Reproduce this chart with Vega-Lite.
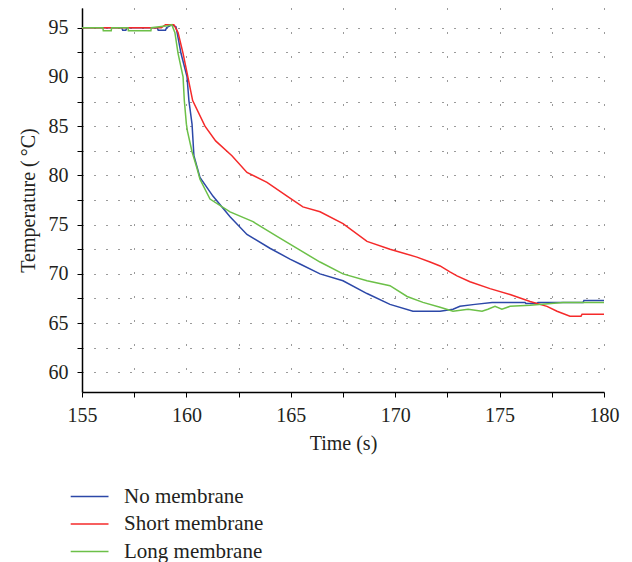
{
  "$schema": "https://vega.github.io/schema/vega-lite/v6.json",
  "width": 522,
  "height": 384,
  "autosize": {"type": "none"},
  "padding": {"left": 82, "top": 8, "right": 28, "bottom": 170},
  "background": "white",
  "config": {
    "view": {"stroke": null},
    "font": "Liberation Serif",
    "axis": {
      "labelFont": "Liberation Serif",
      "titleFont": "Liberation Serif",
      "labelFontSize": 20,
      "titleFontSize": 20,
      "labelColor": "#231f20",
      "titleColor": "#231f20",
      "titleFontWeight": "normal",
      "domainColor": "#000000",
      "domainWidth": 1.5,
      "tickColor": "#000000",
      "tickWidth": 1,
      "tickSize": 5,
      "gridColor": "#222222",
      "gridOpacity": 0.9,
      "gridWidth": 1
    },
    "legend": {
      "labelFont": "Liberation Serif",
      "labelFontSize": 21,
      "labelColor": "#231f20"
    }
  },
  "data": {
    "values": [
      {"series": "No membrane", "t": 155.0, "T": 95.0},
      {"series": "No membrane", "t": 156.9, "T": 95.0},
      {"series": "No membrane", "t": 156.95, "T": 94.75},
      {"series": "No membrane", "t": 157.1, "T": 94.75},
      {"series": "No membrane", "t": 157.15, "T": 95.0},
      {"series": "No membrane", "t": 158.6, "T": 95.0},
      {"series": "No membrane", "t": 158.65, "T": 94.75},
      {"series": "No membrane", "t": 159.0, "T": 94.75},
      {"series": "No membrane", "t": 159.05, "T": 95.0},
      {"series": "No membrane", "t": 159.3, "T": 95.3},
      {"series": "No membrane", "t": 159.5, "T": 95.1},
      {"series": "No membrane", "t": 159.6, "T": 94.0},
      {"series": "No membrane", "t": 159.74, "T": 92.4},
      {"series": "No membrane", "t": 160.03, "T": 90.0},
      {"series": "No membrane", "t": 160.12, "T": 87.6},
      {"series": "No membrane", "t": 160.27, "T": 85.2},
      {"series": "No membrane", "t": 160.36, "T": 82.0},
      {"series": "No membrane", "t": 160.65, "T": 79.8},
      {"series": "No membrane", "t": 161.27, "T": 77.9},
      {"series": "No membrane", "t": 162.09, "T": 75.8},
      {"series": "No membrane", "t": 162.9, "T": 74.0},
      {"series": "No membrane", "t": 164.0, "T": 72.6},
      {"series": "No membrane", "t": 164.96, "T": 71.5},
      {"series": "No membrane", "t": 165.44, "T": 71.0},
      {"series": "No membrane", "t": 166.4, "T": 70.0},
      {"series": "No membrane", "t": 167.5, "T": 69.3},
      {"series": "No membrane", "t": 168.65, "T": 68.0},
      {"series": "No membrane", "t": 169.75, "T": 66.9},
      {"series": "No membrane", "t": 170.85, "T": 66.2},
      {"series": "No membrane", "t": 172.15, "T": 66.2},
      {"series": "No membrane", "t": 172.77, "T": 66.4},
      {"series": "No membrane", "t": 173.1, "T": 66.7},
      {"series": "No membrane", "t": 173.82, "T": 66.9},
      {"series": "No membrane", "t": 174.64, "T": 67.1},
      {"series": "No membrane", "t": 176.22, "T": 67.1},
      {"series": "No membrane", "t": 176.26, "T": 67.0},
      {"series": "No membrane", "t": 176.79, "T": 67.0},
      {"series": "No membrane", "t": 176.84, "T": 67.1},
      {"series": "No membrane", "t": 179.0, "T": 67.1},
      {"series": "No membrane", "t": 179.04, "T": 67.3},
      {"series": "No membrane", "t": 180.0, "T": 67.3},

      {"series": "Short membrane", "t": 155.0, "T": 95.0},
      {"series": "Short membrane", "t": 158.8, "T": 95.0},
      {"series": "Short membrane", "t": 159.0, "T": 95.3},
      {"series": "Short membrane", "t": 159.4, "T": 95.3},
      {"series": "Short membrane", "t": 159.6, "T": 94.5},
      {"series": "Short membrane", "t": 159.84, "T": 92.4},
      {"series": "Short membrane", "t": 160.07, "T": 90.0},
      {"series": "Short membrane", "t": 160.3, "T": 87.6},
      {"series": "Short membrane", "t": 160.89, "T": 85.0},
      {"series": "Short membrane", "t": 161.4, "T": 83.5},
      {"series": "Short membrane", "t": 162.18, "T": 82.0},
      {"series": "Short membrane", "t": 162.9, "T": 80.3},
      {"series": "Short membrane", "t": 163.86, "T": 79.3},
      {"series": "Short membrane", "t": 164.82, "T": 77.9},
      {"series": "Short membrane", "t": 165.58, "T": 76.8},
      {"series": "Short membrane", "t": 166.4, "T": 76.3},
      {"series": "Short membrane", "t": 167.5, "T": 75.1},
      {"series": "Short membrane", "t": 168.65, "T": 73.3},
      {"series": "Short membrane", "t": 169.75, "T": 72.5},
      {"series": "Short membrane", "t": 171.04, "T": 71.7},
      {"series": "Short membrane", "t": 171.67, "T": 71.2},
      {"series": "Short membrane", "t": 172.15, "T": 70.8},
      {"series": "Short membrane", "t": 172.62, "T": 70.2},
      {"series": "Short membrane", "t": 172.96, "T": 69.8},
      {"series": "Short membrane", "t": 173.58, "T": 69.2},
      {"series": "Short membrane", "t": 174.54, "T": 68.5},
      {"series": "Short membrane", "t": 175.5, "T": 67.9},
      {"series": "Short membrane", "t": 176.46, "T": 67.2},
      {"series": "Short membrane", "t": 177.27, "T": 66.7},
      {"series": "Short membrane", "t": 177.75, "T": 66.2},
      {"series": "Short membrane", "t": 178.37, "T": 65.7},
      {"series": "Short membrane", "t": 178.9, "T": 65.7},
      {"series": "Short membrane", "t": 178.95, "T": 65.9},
      {"series": "Short membrane", "t": 180.0, "T": 65.9},

      {"series": "Long membrane", "t": 155.0, "T": 95.0},
      {"series": "Long membrane", "t": 156.0, "T": 95.0},
      {"series": "Long membrane", "t": 156.02, "T": 94.7},
      {"series": "Long membrane", "t": 156.4, "T": 94.7},
      {"series": "Long membrane", "t": 156.42, "T": 95.0},
      {"series": "Long membrane", "t": 157.2, "T": 95.0},
      {"series": "Long membrane", "t": 157.22, "T": 94.7},
      {"series": "Long membrane", "t": 158.3, "T": 94.7},
      {"series": "Long membrane", "t": 158.32, "T": 95.0},
      {"series": "Long membrane", "t": 159.1, "T": 95.2},
      {"series": "Long membrane", "t": 159.3, "T": 95.3},
      {"series": "Long membrane", "t": 159.45, "T": 94.5},
      {"series": "Long membrane", "t": 159.6, "T": 92.4},
      {"series": "Long membrane", "t": 159.84, "T": 90.0},
      {"series": "Long membrane", "t": 159.9, "T": 87.6},
      {"series": "Long membrane", "t": 160.0, "T": 85.2},
      {"series": "Long membrane", "t": 160.05, "T": 84.5},
      {"series": "Long membrane", "t": 160.27, "T": 82.4},
      {"series": "Long membrane", "t": 160.51, "T": 80.7},
      {"series": "Long membrane", "t": 160.65, "T": 79.6},
      {"series": "Long membrane", "t": 161.13, "T": 77.6},
      {"series": "Long membrane", "t": 162.09, "T": 76.3},
      {"series": "Long membrane", "t": 163.19, "T": 75.3},
      {"series": "Long membrane", "t": 164.34, "T": 73.8},
      {"series": "Long membrane", "t": 165.44, "T": 72.4},
      {"series": "Long membrane", "t": 166.4, "T": 71.2},
      {"series": "Long membrane", "t": 167.5, "T": 70.0},
      {"series": "Long membrane", "t": 168.65, "T": 69.3},
      {"series": "Long membrane", "t": 169.75, "T": 68.8},
      {"series": "Long membrane", "t": 170.57, "T": 67.7},
      {"series": "Long membrane", "t": 171.33, "T": 67.1},
      {"series": "Long membrane", "t": 172.15, "T": 66.6},
      {"series": "Long membrane", "t": 172.77, "T": 66.2},
      {"series": "Long membrane", "t": 173.49, "T": 66.4},
      {"series": "Long membrane", "t": 174.16, "T": 66.2},
      {"series": "Long membrane", "t": 174.44, "T": 66.4},
      {"series": "Long membrane", "t": 174.78, "T": 66.7},
      {"series": "Long membrane", "t": 175.11, "T": 66.4},
      {"series": "Long membrane", "t": 175.5, "T": 66.7},
      {"series": "Long membrane", "t": 176.46, "T": 66.8},
      {"series": "Long membrane", "t": 178.04, "T": 67.1},
      {"series": "Long membrane", "t": 180.0, "T": 67.1}
    ]
  },
  "mark": {"type": "line", "strokeWidth": 1.5, "interpolate": "linear"},
  "encoding": {
    "x": {
      "field": "t",
      "type": "quantitative",
      "scale": {"domain": [155, 180], "nice": false, "zero": false},
      "axis": {
        "title": "Time (s)",
        "values": [155, 157.5, 160, 162.5, 165, 167.5, 170, 172.5, 175, 177.5, 180],
        "labelExpr": "datum.value % 5 === 0 ? datum.label : ''",
        "format": "d",
        "gridDash": [1, 23],
        "labelPadding": 8,
        "titlePadding": 8,
        "labelFlush": false,
        "labelOverlap": false
      }
    },
    "y": {
      "field": "T",
      "type": "quantitative",
      "scale": {"domain": [58, 97], "nice": false, "zero": false},
      "axis": {
        "title": "Temperature (\u2009°C)",
        "values": [60, 62.5, 65, 67.5, 70, 72.5, 75, 77.5, 80, 82.5, 85, 87.5, 90, 92.5, 95],
        "labelExpr": "datum.value % 5 === 0 ? datum.label : ''",
        "format": "d",
        "gridDash": [1, 11],
        "labelPadding": 9,
        "titlePadding": 10,
        "labelOverlap": false
      }
    },
    "color": {
      "field": "series",
      "type": "nominal",
      "sort": ["No membrane", "Short membrane", "Long membrane"],
      "scale": {
        "domain": ["No membrane", "Short membrane", "Long membrane"],
        "range": ["#2c48a8", "#f52a2a", "#6cc048"]
      },
      "legend": {
        "title": null,
        "orient": "none",
        "legendX": -1.5,
        "legendY": 478,
        "symbolType": "M-2.9,0H2.5",
        "symbolSize": 196,
        "symbolStrokeWidth": 1.5,
        "labelOffset": 22.5,
        "rowPadding": 5.5
      }
    }
  }
}
